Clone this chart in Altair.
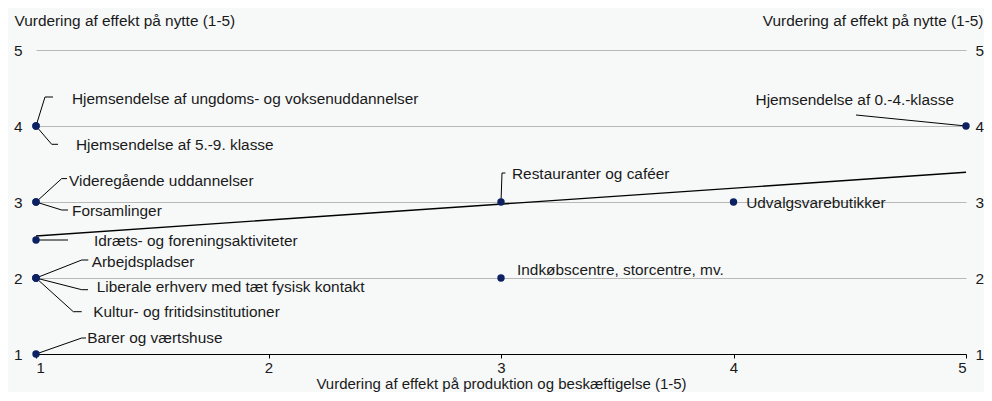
import altair as alt
import pandas as pd

# ---------------- data ----------------
names = [
    "Hjemsendelse af ungdoms- og voksenuddannelser",
    "Hjemsendelse af 5.-9. klasse",
    "Hjemsendelse af 0.-4.-klasse",
    "Videregående uddannelser",
    "Forsamlinger",
    "Restauranter og caféer",
    "Udvalgsvarebutikker",
    "Idræts- og foreningsaktiviteter",
    "Arbejdspladser",
    "Liberale erhverv med tæt fysisk kontakt",
    "Kultur- og fritidsinstitutioner",
    "Indkøbscentre, storcentre, mv.",
    "Barer og værtshuse",
]
x_vals = [1, 1, 5, 1, 1, 3, 4, 1, 1, 1, 1, 3, 1]
y_vals = [4, 4, 4, 3, 3, 3, 3, 2.5, 2, 2, 2, 2, 1]

x_ticks = [1, 2, 3, 4, 5]
y_ticks = [1, 2, 3, 4, 5]

x_title = "Vurdering af effekt på produktion og beskæftigelse (1-5)"
y_title = "Vurdering af effekt på nytte (1-5)"

# ---------------- label layout (pixel offsets from each point) ----------------
# (knee dx, knee dy, leader end dx, text dx, text dy, align); None = no leader
label_layout = [
    (9, -29, 17, 36, -27, "left"),
    (15.7, 18.3, 22, 40, 19, "left"),
    (-110, -11, -110, -12, -26, "right"),
    (25.7, -23.4, 31, 33, -21, "left"),
    (25.7, 8, 32, 36, 9, "left"),
    (1, -29, 4.4, 11, -28, "left"),
    (None, None, None, 12.7, 1, "left"),
    (32, 0, 32, 58, 0.5, "left"),
    (45.7, -18, 52.3, 55.7, -16.3, "left"),
    (45.7, 11.7, 52, 60.7, 9.3, "left"),
    (37.3, 33.7, 45.7, 57.3, 33.7, "left"),
    (None, None, None, 16, -8.3, "left"),
    (45.7, -16, 50, 51.3, -16, "left"),
]

W, H = 930, 304
PAD = {"left": 28, "top": 42, "right": 18, "bottom": 38}
X_DOMAIN = [1, 5]
Y_DOMAIN = [1, 5]
px_x = (X_DOMAIN[1] - X_DOMAIN[0]) / W
px_y = (Y_DOMAIN[1] - Y_DOMAIN[0]) / H

FONT = "Liberation Sans"
FS = 15.4
AFS = 15
TXT = "#1a1a1a"
PT = "#0b2161"
BG = "#f7f9f9"

pts = pd.DataFrame({"name": names, "x": x_vals, "y": y_vals})

lab_rows, seg_rows = [], []
for n, xv, yv, lay in zip(names, x_vals, y_vals, label_layout):
    kdx, kdy, edx, tdx, tdy, al = lay
    lab_rows.append({"name": n, "tx": xv + tdx * px_x, "ty": yv - tdy * px_y, "align": al})
    if kdx is not None:
        kx = xv + kdx * px_x
        ky = yv - kdy * px_y
        seg_rows.append({"x": xv, "y": yv, "x2": kx, "y2": ky})
        if edx != kdx:
            seg_rows.append({"x": kx, "y": ky, "x2": xv + edx * px_x, "y2": ky})
labels = pd.DataFrame(lab_rows)
segs = pd.DataFrame(seg_rows)

xscale = alt.Scale(domain=X_DOMAIN, nice=False, zero=False)
yscale = alt.Scale(domain=Y_DOMAIN, nice=False, zero=False)

xaxis = alt.Axis(
    values=x_ticks, format="d", title=x_title, grid=False,
    domainColor="#000000", domainWidth=1.2, tickColor="#000000", tickSize=4,
    labelFontSize=AFS, labelFont=FONT, labelColor=TXT, labelPadding=2,
    titleFontSize=AFS, titleFont=FONT, titleColor=TXT, titleFontWeight="normal", titlePadding=1,
)
yaxis_left = alt.Axis(
    values=y_ticks, format="d", orient="left", grid=True, gridColor="#b9b9b9", gridWidth=1,
    domain=False, ticks=False, labelPadding=14, labelFontSize=FS, labelFont=FONT, labelColor=TXT,
    title=y_title, titleAngle=0, titleAlign="left", titleBaseline="middle", titleX=-22, titleY=-30,
    titleFontSize=FS, titleFont=FONT, titleColor=TXT, titleFontWeight="normal",
)
yaxis_right = alt.Axis(
    values=y_ticks, format="d", orient="right", grid=False,
    domain=False, ticks=False, labelPadding=9, labelFontSize=FS, labelFont=FONT, labelColor=TXT,
    title=y_title, titleAngle=0, titleAlign="right", titleBaseline="middle", titleX=17, titleY=-30,
    titleFontSize=FS, titleFont=FONT, titleColor=TXT, titleFontWeight="normal",
)

base_pts = alt.Chart(pts)

grid_left = base_pts.mark_circle(opacity=0).encode(
    x=alt.X("x:Q", scale=xscale, axis=xaxis),
    y=alt.Y("y:Q", scale=yscale, axis=yaxis_left),
)
axis_right = base_pts.mark_circle(opacity=0).encode(
    x=alt.X("x:Q", scale=xscale, axis=xaxis),
    y=alt.Y("y:Q", scale=yscale, axis=yaxis_right),
)

trend = base_pts.transform_regression("x", "y", extent=X_DOMAIN).mark_line(
    color="#000000", strokeWidth=1.4
).encode(
    x=alt.X("x:Q", scale=xscale, axis=xaxis),
    y=alt.Y("y:Q", scale=yscale, axis=None),
)

leaders = alt.Chart(segs).mark_rule(color="#000000", strokeWidth=1).encode(
    x=alt.X("x:Q", scale=xscale, axis=xaxis),
    y=alt.Y("y:Q", scale=yscale, axis=None),
    x2="x2:Q",
    y2="y2:Q",
)

points = base_pts.mark_circle(size=55, color=PT, opacity=1).encode(
    x=alt.X("x:Q", scale=xscale, axis=xaxis),
    y=alt.Y("y:Q", scale=yscale, axis=None),
    tooltip=["name:N", "x:Q", "y:Q"],
)

txt_left = alt.Chart(labels).transform_filter(alt.datum.align == "left").mark_text(
    align="left", baseline="middle", font=FONT, fontSize=FS, color=TXT
).encode(
    x=alt.X("tx:Q", scale=xscale, axis=xaxis),
    y=alt.Y("ty:Q", scale=yscale, axis=None),
    text="name:N",
)
txt_right = alt.Chart(labels).transform_filter(alt.datum.align == "right").mark_text(
    align="right", baseline="middle", font=FONT, fontSize=FS, color=TXT
).encode(
    x=alt.X("tx:Q", scale=xscale, axis=xaxis),
    y=alt.Y("ty:Q", scale=yscale, axis=None),
    text="name:N",
)

chart = alt.layer(
    grid_left, axis_right, trend, leaders, points, txt_left, txt_right
).resolve_scale(y="shared").resolve_axis(y="independent").properties(
    width=W, height=H,
    autosize=alt.AutoSizeParams(type="none"),
    padding=PAD,
    background=BG,
).configure_view(stroke=None)

chart.save("out.html", embed_options={"renderer": "svg", "actions": False})
